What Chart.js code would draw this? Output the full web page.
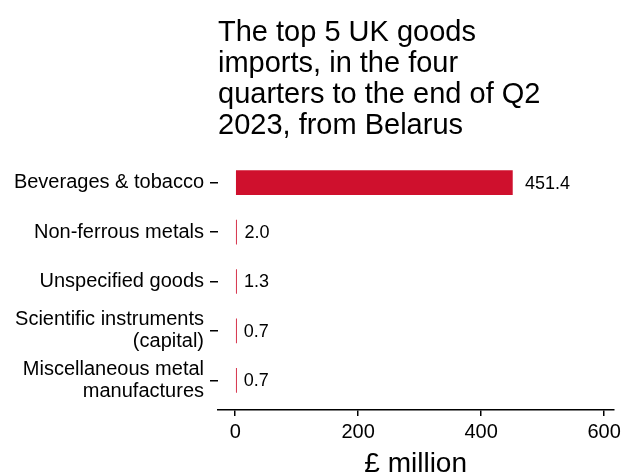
<!DOCTYPE html>
<html>
<head>
<meta charset="utf-8">
<script src="https://cdn.jsdelivr.net/npm/chart.js@4"></script>
<style>
  html, body { margin: 0; padding: 0; background: #fff; }
  #wrap { width: 625px; height: 472px; position: relative; }
</style>
</head>
<body>
<div id="wrap"><canvas id="chart"></canvas></div>
<script>
const titleLines = ['The top 5 UK goods', 'imports, in the four', 'quarters to the end of Q2', '2023, from Belarus']
const categories = [
  'Beverages & tobacco',
  'Non-ferrous metals',
  'Unspecified goods',
  ['Scientific instruments', '(capital)'],
  ['Miscellaneous metal', 'manufactures']
]
const values = [451.4, 2.0, 1.3, 0.7, 0.7]
const xTicks = [0, 200, 400, 600]
const xTitle = '£ million'

const FONT = "'Liberation Sans', Arial, sans-serif"
const RED = '#CF102D'

// bars sit on a linear index axis so the ggplot-style padding around the categories can be matched
const points = values.map((v, i) => ({ x: v, y: i + 1 }))

const titlePlugin = {
  id: 'leftTitle',
  afterDraw(chart) {
    const ctx = chart.ctx
    ctx.save()
    ctx.fillStyle = '#000'
    ctx.font = '29px ' + FONT
    ctx.textBaseline = 'alphabetic'
    ctx.textAlign = 'left'
    titleLines.forEach((line, i) => {
      ctx.fillText(line, chart.chartArea.left, 41 + i * 31)
    })
    ctx.restore()
  }
}

const valueLabels = {
  id: 'valueLabels',
  afterDatasetsDraw(chart) {
    const ctx = chart.ctx
    const meta = chart.getDatasetMeta(0)
    const xs = chart.scales.x
    ctx.save()
    ctx.fillStyle = '#000'
    ctx.font = '18px ' + FONT
    ctx.textBaseline = 'middle'
    ctx.textAlign = 'left'
    meta.data.forEach((bar, i) => {
      const x = xs.getPixelForValue(values[i] * 1.015) + 8
      ctx.fillText(values[i].toFixed(1), x, bar.y + 1)
    })
    ctx.restore()
  }
}

new Chart(document.getElementById('chart'), {
  type: 'bar',
  data: {
    datasets: [{
      data: points,
      backgroundColor: RED,
      borderWidth: 0,
      minBarLength: 1.6,
      categoryPercentage: 1,
      barPercentage: 0.5
    }]
  },
  options: {
    indexAxis: 'y',
    responsive: true,
    maintainAspectRatio: false,
    animation: false,
    layout: { padding: { top: 153, right: 10, left: 0, bottom: 0 } },
    plugins: {
      legend: { display: false },
      tooltip: { enabled: false },
      title: { display: false }
    },
    scales: {
      y: {
        type: 'linear',
        reverse: true,
        offset: false,
        min: 0.4,
        max: 5.6,
        afterBuildTicks(scale) {
          scale.ticks = categories.map((c, i) => ({ value: i + 1 }))
        },
        afterFit(scale) { scale.width = 218 },
        border: { display: false },
        grid: { offset: false, drawOnChartArea: false, drawTicks: true, tickLength: 8, color: '#000', lineWidth: 1.5 },
        ticks: {
          color: '#000',
          padding: 6,
          font: { family: FONT, size: 20, lineHeight: 1.1 },
          callback: (v) => categories[v - 1]
        }
      },
      x: {
        type: 'linear',
        min: -28,
        max: 615,
        afterBuildTicks(scale) {
          scale.ticks = xTicks.map(v => ({ value: v }))
        },
        afterFit(scale) { scale.height = 62 },
        border: { display: true, color: '#000', width: 1.5 },
        grid: { drawOnChartArea: false, drawTicks: true, tickLength: 6, color: '#000', lineWidth: 1.5 },
        ticks: {
          color: '#000',
          padding: 4,
          maxRotation: 0,
          font: { family: FONT, size: 20 }
        },
        title: {
          display: true,
          text: xTitle,
          color: '#000',
          font: { family: FONT, size: 28, lineHeight: 1 },
          padding: { top: 0, bottom: -6 }
        }
      }
    }
  },
  plugins: [titlePlugin, valueLabels]
})
</script>
</body>
</html>
